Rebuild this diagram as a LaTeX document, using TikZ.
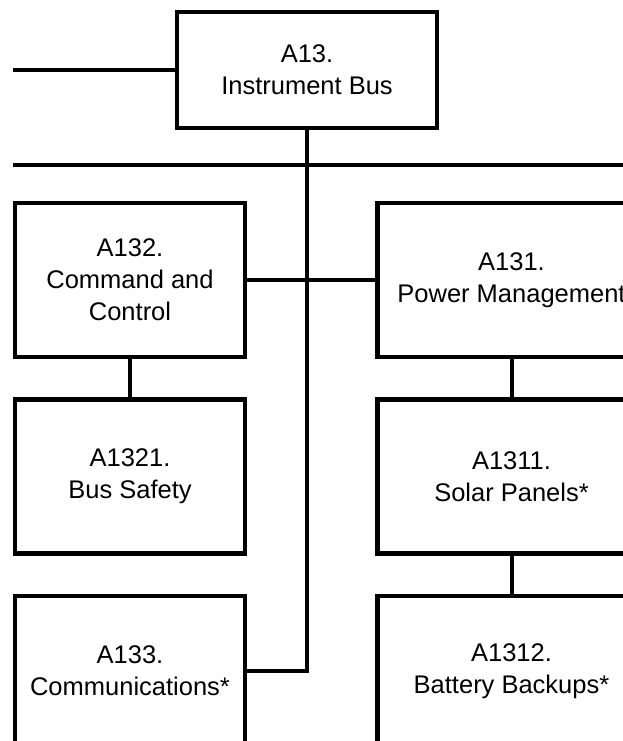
\documentclass[tikz,border=0pt]{standalone}
\usepackage{fontspec}
\setmainfont{Liberation Sans}
\usepackage{tikz}
\usetikzlibrary{positioning}

\begin{document}
\begin{tikzpicture}[x=1pt, y=-1pt, font=\fontsize{25.5}{32}\selectfont, node distance=38pt]
  \tikzset{box/.style={draw, line width=4.5pt, align=center, inner sep=0pt, minimum width=230pt, minimum height=154pt},wide/.style={box, minimum width=268pt},link/.style={line width=4pt}}
  \useasboundingbox (0,0) rectangle (623,741);
  \clip (0,0) rectangle (623,741);
  \node[box, minimum width=260pt, minimum height=116pt] (a13) at (307,70) {A13.\\Instrument Bus};
  \node[box] (a132) at (130,280) {A132.\\Command and\\Control};
  \node[wide, right=128pt of a132] (a131) {A131.\\Power Management};
  \node[box, below=of a132] (a1321) {A1321.\\Bus Safety};
  \node[box, minimum height=150pt, below=of a1321] (a133) {A133.\\Communications*};
  \node[wide, below=of a131] (a1311) {A1311.\\Solar Panels*};
  \node[wide, minimum height=150pt, below=of a1311] (a1312) {A1312.\\Battery Backups*};
  \coordinate (feed) at (13,70);
  \coordinate (busL) at (13,165);
  \coordinate (busR) at (640,165);
  \draw[link] (feed) -- (a13.west);
  \draw[link] (busL) -- (busR);
  \draw[link] (a13.south) |- (a133.east);
  \draw[link] (a132.east) -- (a131.west);
  \draw[link] (a132.south) -- (a1321.north);
  \draw[link] (a131.south) -- (a1311.north);
  \draw[link] (a1311.south) -- (a1312.north);
\end{tikzpicture}
\end{document}
